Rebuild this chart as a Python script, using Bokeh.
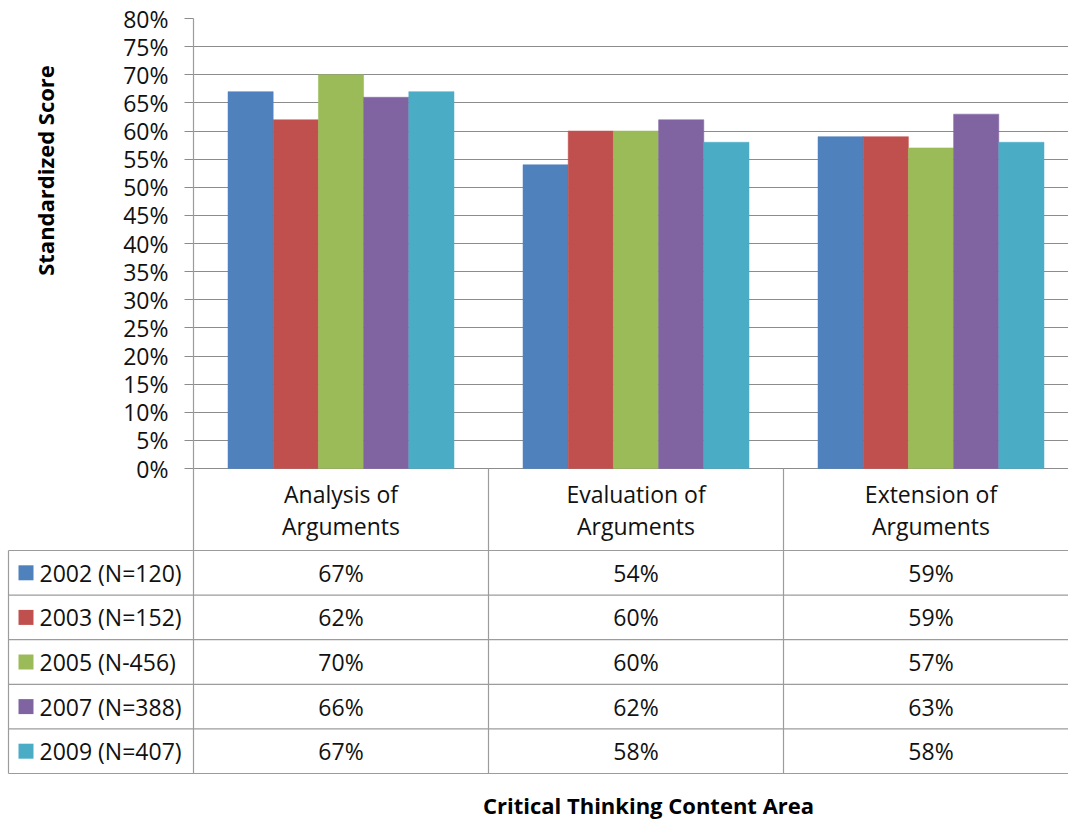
import numpy as np
from bokeh.plotting import figure
from bokeh.models import Range1d, FixedTicker, PrintfTickFormatter
from bokeh.core.properties import value
from bokeh.embed import file_html
from bokeh.resources import INLINE

# ---------------- data ----------------
categories = ["Analysis of Arguments", "Evaluation of Arguments", "Extension of Arguments"]
series = ["2002 (N=120)", "2003 (N=152)", "2005 (N-456)", "2007 (N=388)", "2009 (N=407)"]
v2002 = [67, 54, 59]
v2003 = [62, 60, 59]
v2005 = [70, 60, 57]
v2007 = [66, 62, 63]
v2009 = [67, 58, 58]
y_ticks = [0, 5, 10, 15, 20, 25, 30, 35, 40, 45, 50, 55, 60, 65, 70, 75, 80]
y_title = "Standardized Score"
x_title = "Critical Thinking Content Area"

values = [v2002, v2003, v2005, v2007, v2009]
colors = ["#4F81BD", "#C0504D", "#9BBB59", "#8064A2", "#4BACC6"]

# ---------------- layout (pixels) ----------------
W, H = 1068, 821
LEFT, TOP, ZERO = 193, 18, 468
CAT_W = 295.0
Y_MAX = 80.0
PXU = (ZERO - TOP) / Y_MAX
BAR_W = 45.2 / CAT_W
TABLE_LEFT = 8
ROWS = [550, 594.6, 639.2, 683.8, 728.4, 773]
FONT = "Open Sans"
GRID = "#8c8c8c"
TLINE = "#9c9c9c"
TXT = "#111111"


def X(px):
    return (px - LEFT) / CAT_W


def Y(px):
    return (ZERO - px) / PXU


p = figure(width=W, height=H,
           x_range=Range1d(0, X(W)), y_range=Range1d(Y(H), Y(TOP)),
           min_border_left=LEFT, min_border_right=0, min_border_top=TOP, min_border_bottom=0,
           toolbar_location=None, output_backend="svg", x_axis_location=None)
p.outline_line_color = None
p.background_fill_color = "white"
p.border_fill_color = "white"
p.xgrid.visible = False
p.ygrid.ticker = FixedTicker(ticks=y_ticks)
p.ygrid.grid_line_color = GRID
p.ygrid.grid_line_width = 1

ax = p.yaxis[0]
ax.ticker = FixedTicker(ticks=y_ticks)
ax.formatter = PrintfTickFormatter(format="%d%%")
ax.axis_line_color = None
ax.major_tick_out = 9
ax.major_tick_in = 0
ax.minor_tick_line_color = None
ax.major_tick_line_color = GRID
ax.major_label_text_font = FONT
ax.major_label_text_font_size = "23px"
ax.major_label_text_color = TXT
ax.major_label_standoff = 16

# bars
for j, (vals, col) in enumerate(zip(values, colors)):
    xs = [i + 0.5 + (j - 2) * BAR_W for i in range(len(categories))]
    p.vbar(x=xs, top=vals, bottom=0, width=BAR_W, fill_color=col,
           line_color=col, line_width=0.5)

# axis line / table lines
xs0, ys0, xs1, ys1 = [], [], [], []
xs0.append(X(LEFT)); ys0.append(Y(TOP)); xs1.append(X(LEFT)); ys1.append(Y(ROWS[-1]))
for i in range(1, len(categories)):
    xs0.append(i); ys0.append(0); xs1.append(i); ys1.append(Y(ROWS[-1]))
xs0.append(X(TABLE_LEFT)); ys0.append(Y(ROWS[0])); xs1.append(X(TABLE_LEFT)); ys1.append(Y(ROWS[-1]))
for r in ROWS:
    xs0.append(X(TABLE_LEFT)); ys0.append(Y(r)); xs1.append(X(W)); ys1.append(Y(r))
p.segment(x0=xs0, y0=ys0, x1=xs1, y1=ys1, line_color=TLINE, line_width=1.2, level="overlay")

# category header labels
cx = [i + 0.5 for i in range(len(categories))]
line1 = [c.rsplit(" ", 1)[0] for c in categories]
line2 = [c.rsplit(" ", 1)[1] for c in categories]
p.text(x=cx, y=[Y(493)] * len(cx), text=line1, text_align="center", text_baseline="middle",
       text_font=value(FONT), text_font_size="23px", text_color=TXT, level="overlay")
p.text(x=cx, y=[Y(525)] * len(cx), text=line2, text_align="center", text_baseline="middle",
       text_font=value(FONT), text_font_size="23px", text_color=TXT, level="overlay")

# table rows: legend keys (as thick segments), names, values
row_c = [(ROWS[k] + ROWS[k + 1]) / 2 for k in range(len(series))]
p.segment(x0=[X(18)] * len(series), x1=[X(33)] * len(series),
          y0=[Y(r) for r in row_c], y1=[Y(r) for r in row_c],
          line_color=colors, line_width=15, line_cap="butt", level="overlay")
p.text(x=[X(39)] * len(series), y=[Y(r) for r in row_c], text=series, text_align="left",
       text_baseline="middle", text_font=value(FONT), text_font_size="23px",
       text_color=TXT, level="overlay")
tx, ty, tt = [], [], []
for j, vals in enumerate(values):
    for i, v in enumerate(vals):
        tx.append(i + 0.5); ty.append(Y(row_c[j])); tt.append(f"{v}%")
p.text(x=tx, y=ty, text=tt, text_align="center", text_baseline="middle",
       text_font=value(FONT), text_font_size="23px", text_color=TXT, level="overlay")

# titles
p.text(x=[X(44)], y=[Y(170)], text=[y_title], angle=np.pi / 2, text_align="center",
       text_baseline="middle", text_font=value(FONT), text_font_size="22px",
       text_font_style="bold", text_color="#000000", level="overlay")
p.text(x=[X(648)], y=[Y(804)], text=[x_title], text_align="center",
       text_baseline="middle", text_font=value(FONT), text_font_size="22px",
       text_font_style="bold", text_color="#000000", level="overlay")

open("out.html", "w").write(file_html(p, INLINE))
